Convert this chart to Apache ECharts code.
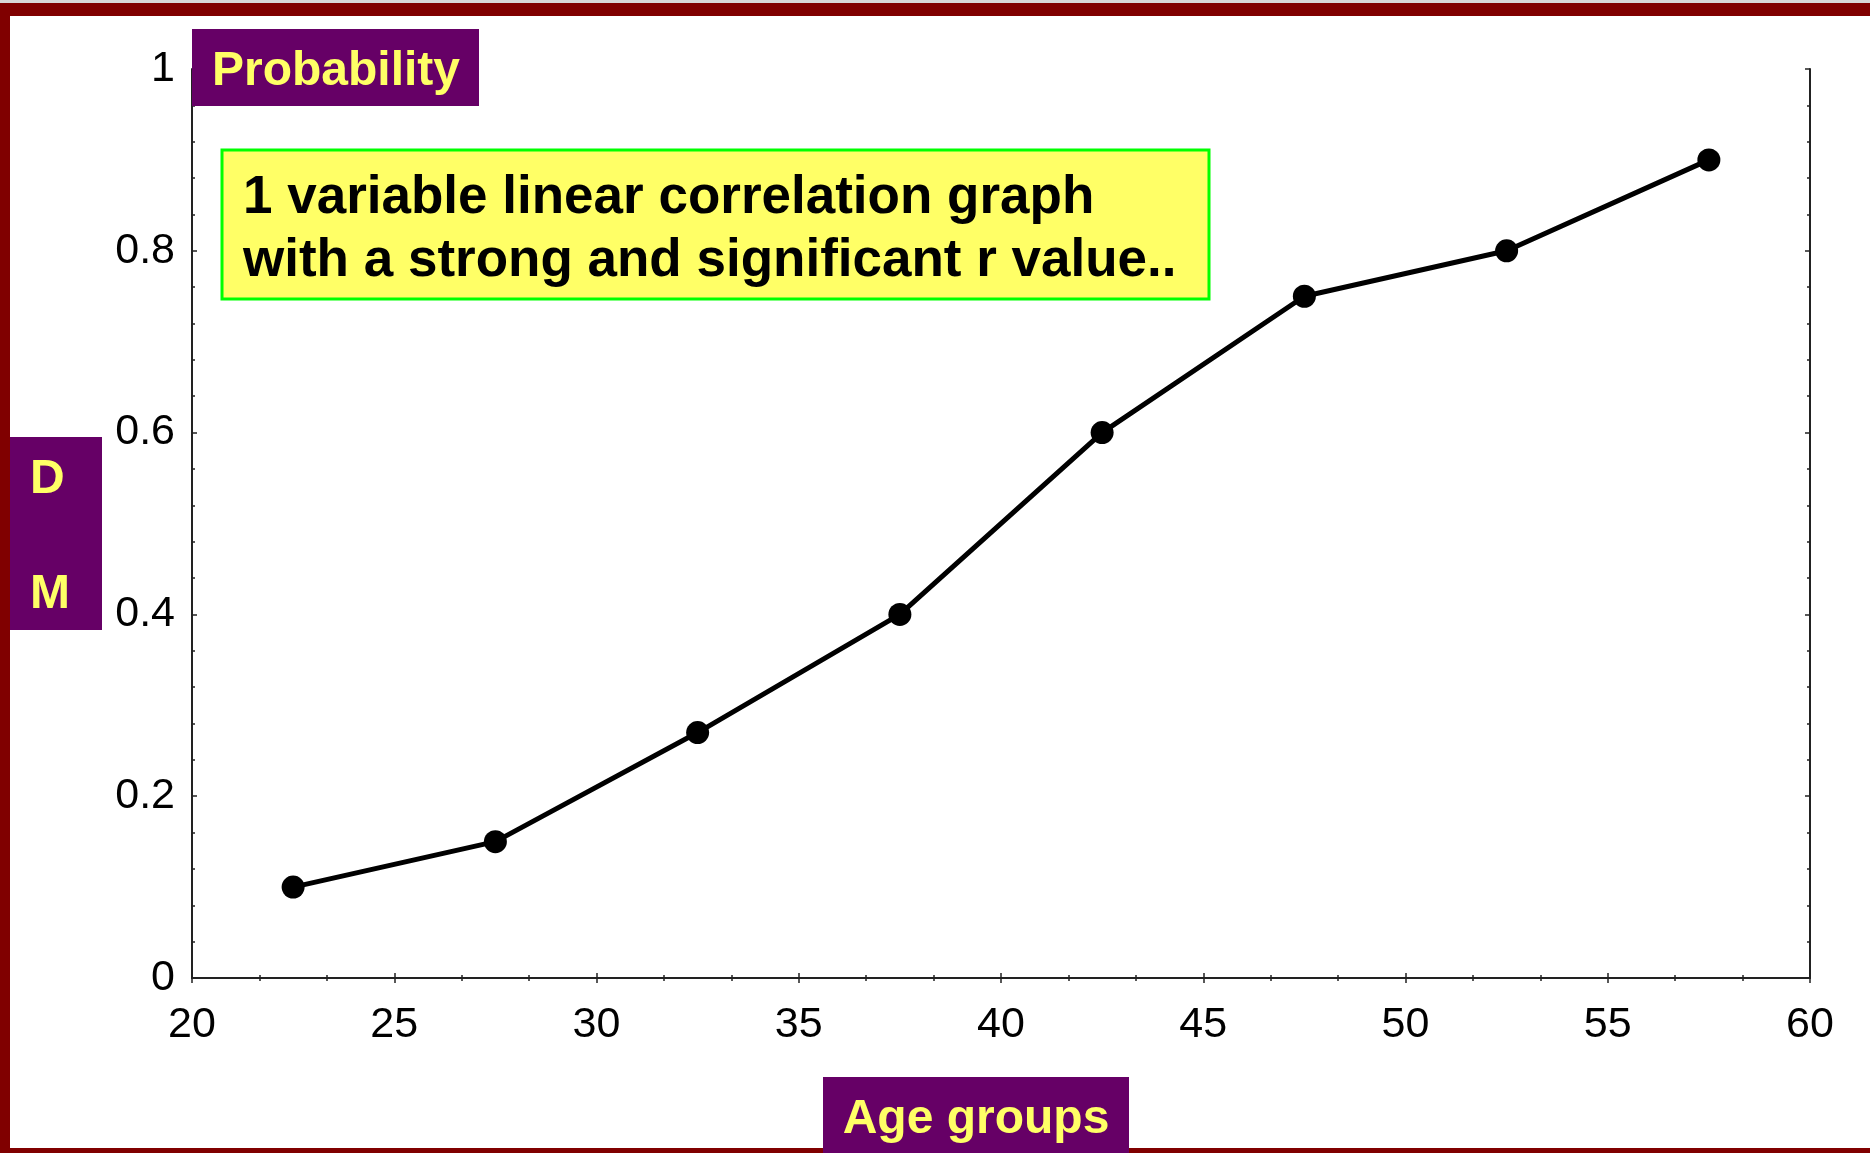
<!DOCTYPE html>
<html>
<head>
<meta charset="utf-8">
<script src="https://cdn.jsdelivr.net/npm/echarts@6/dist/echarts.min.js"></script>
<style>
html, body { margin: 0; padding: 0; background: #fff; }
#main { width: 1870px; height: 1153px; }
</style>
</head>
<body>
<div id="main"></div>
<script>
// age group midpoints and probability values
var age_groups = [22.5, 27.5, 32.5, 37.5, 42.5, 47.5, 52.5, 57.5];
var probability = [0.1, 0.15, 0.27, 0.4, 0.6, 0.75, 0.8, 0.9];
var note_lines = ['1 variable linear correlation graph', 'with a strong and significant r value..'];

var font_name = '"Liberation Sans", Arial, sans-serif';
var purple = '#660066';
var yellow_text = '#ffff66';
var frame_red = '#800000';

var chart = echarts.init(document.getElementById('main'));

var points = [];
for (var i = 0; i < age_groups.length; i++) {
    points.push([age_groups[i], probability[i]]);
}

var axis_line = { show: true, lineStyle: { color: '#222', width: 2 } };
var tick_in = { show: true, inside: true, length: 5, lineStyle: { color: '#222', width: 1.5 } };

option = {
    backgroundColor: '#fff',
    animation: false,
    grid: {
        left: 192,
        right: 60,
        top: 69,
        bottom: 175
    },
    xAxis: [
        {
            type: 'value',
            min: 20,
            max: 60,
            interval: 5,
            axisLine: axis_line,
            axisTick: tick_in,
            minorTick: { show: true, splitNumber: 3, length: 3, lineStyle: { color: '#222', width: 1.5 } },
            splitLine: { show: false },
            axisLabel: { color: '#000', fontSize: 43, fontFamily: font_name, margin: 26 }
        },
        {
            type: 'value',
            position: 'top',
            min: 20,
            max: 60,
            interval: 5,
            axisLine: axis_line,
            axisTick: tick_in,
            minorTick: { show: true, splitNumber: 3, length: 3, lineStyle: { color: '#222', width: 1.5 } },
            splitLine: { show: false },
            axisLabel: { show: false }
        }
    ],
    yAxis: [
        {
            type: 'value',
            min: 0,
            max: 1,
            interval: 0.2,
            axisLine: axis_line,
            axisTick: tick_in,
            minorTick: { show: true, splitNumber: 5, length: 3, lineStyle: { color: '#222', width: 1.5 } },
            splitLine: { show: false },
            axisLabel: { color: '#000', fontSize: 43, fontFamily: font_name, margin: 17, padding: [14, 0, 0, 0] }
        },
        {
            type: 'value',
            position: 'right',
            min: 0,
            max: 1,
            interval: 0.2,
            axisLine: axis_line,
            axisTick: tick_in,
            minorTick: { show: true, splitNumber: 5, length: 3, lineStyle: { color: '#222', width: 1.5 } },
            splitLine: { show: false },
            axisLabel: { show: false }
        }
    ],
    series: [
        {
            type: 'line',
            data: points,
            symbol: 'circle',
            symbolSize: 23,
            itemStyle: { color: '#000' },
            lineStyle: { color: '#000', width: 5 },
            z: 5
        }
    ],
    graphic: [
        // frame
        { type: 'rect', shape: { x: 0, y: 0, width: 1870, height: 3 }, style: { fill: '#d8d8d8' }, z: 100 },
        { type: 'rect', shape: { x: 0, y: 3, width: 1870, height: 13 }, style: { fill: frame_red }, z: 100 },
        { type: 'rect', shape: { x: 0, y: 3, width: 10, height: 1150 }, style: { fill: frame_red }, z: 100 },
        { type: 'rect', shape: { x: 0, y: 1148, width: 1870, height: 5 }, style: { fill: frame_red }, z: 100 },
        // y title box
        { type: 'rect', shape: { x: 192, y: 29, width: 287, height: 77 }, style: { fill: purple }, z: 101 },
        { type: 'text', x: 212, y: 72, style: { text: 'Probability', font: 'bold 48px ' + font_name, fill: yellow_text, textVerticalAlign: 'middle' }, z: 102 },
        // D M box
        { type: 'rect', shape: { x: 10, y: 437, width: 92, height: 193 }, style: { fill: purple }, z: 101 },
        { type: 'text', x: 30, y: 480, style: { text: 'D', font: 'bold 48px ' + font_name, fill: yellow_text, textVerticalAlign: 'middle' }, z: 102 },
        { type: 'text', x: 30, y: 595, style: { text: 'M', font: 'bold 48px ' + font_name, fill: yellow_text, textVerticalAlign: 'middle' }, z: 102 },
        // x title box
        { type: 'rect', shape: { x: 823, y: 1077, width: 306, height: 76 }, style: { fill: purple }, z: 101 },
        { type: 'text', x: 976, y: 1120, style: { text: 'Age groups', font: 'bold 48px ' + font_name, fill: yellow_text, textAlign: 'center', textVerticalAlign: 'middle' }, z: 102 },
        // note box
        { type: 'rect', shape: { x: 222, y: 150, width: 987, height: 149 }, style: { fill: '#ffff66', stroke: '#00ff00', lineWidth: 3 }, z: 101 },
        { type: 'text', x: 243, y: 198, style: { text: note_lines[0], font: 'bold 53px ' + font_name, fill: '#000', textVerticalAlign: 'middle' }, z: 102 },
        { type: 'text', x: 243, y: 261, style: { text: note_lines[1], font: 'bold 53px ' + font_name, fill: '#000', textVerticalAlign: 'middle' }, z: 102 }
    ]
};
chart.setOption(option);
</script>
</body>
</html>
